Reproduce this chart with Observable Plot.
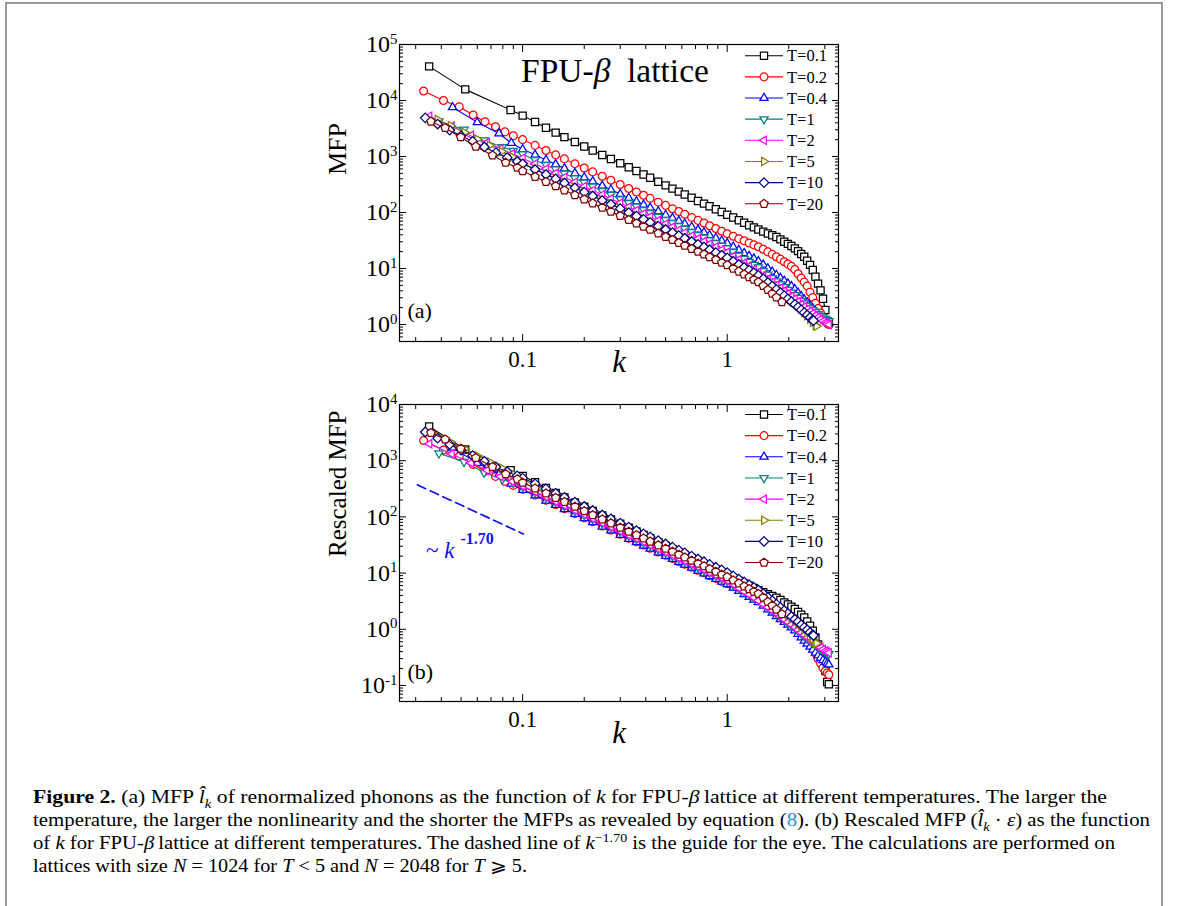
<!DOCTYPE html>
<html><head><meta charset="utf-8">
<script src="https://cdn.jsdelivr.net/npm/d3@7"></script>
<script src="https://cdn.jsdelivr.net/npm/@observablehq/plot@0.6"></script>
<style>
body{margin:0;background:#fff;}
#page{position:relative;width:1179px;height:906px;overflow:hidden;background:#fff;font-family:"Liberation Serif","Times New Roman",serif;color:#000;}
#border{position:absolute;left:5px;top:2px;width:1154px;height:940px;border:2px solid #9a9a9a;border-bottom:none;}
.panel{position:absolute;left:300px;}
#pa{top:20px}
#pb{top:380px}
#legend{position:absolute;left:0;top:0;pointer-events:none;}
.ann{position:absolute;white-space:nowrap;line-height:1;}
#fpu{left:521px;top:54px;font-size:33.5px;}
#guide{left:426px;top:539px;font-size:23px;color:#1010ff;}
#guide .ex{position:relative;top:-14px;font-size:16px;font-weight:bold;margin-left:6px;}
#caption{position:absolute;left:33px;top:786px;font-size:18px;line-height:23px;color:#000;}
#caption .ln{white-space:nowrap;transform-origin:0 50%;width:max-content;}
#caption sub,#caption sup{font-size:0.68em;line-height:0;}
</style></head><body>
<div id="page">
 <div id="border"></div>
 <div id="pa" class="panel"></div>
 <div id="pb" class="panel"></div>
 <svg id="legend" width="1179" height="906"></svg>
 <div class="ann" id="fpu">FPU-<i>β</i>&nbsp;&nbsp;lattice</div>
 <div class="ann" id="guide">~&nbsp;<i>k</i><span class="ex">-1.70</span></div>
 <div id="caption">
  <div class="ln"><b>Figure 2.</b> (a) MFP <i>l̂</i><sub><i>k</i></sub> of renormalized phonons as the function of <i>k</i> for FPU-<i>β</i>&#8201;lattice at different temperatures. The larger the</div>
  <div class="ln">temperature, the larger the nonlinearity and the shorter the MFPs as revealed by equation (<span style="color:#2b8ccf">8</span>). (b) Rescaled MFP (<i>l̂</i><sub><i>k</i></sub> · <i>ε</i>) as the function</div>
  <div class="ln">of <i>k</i> for FPU-<i>β</i>&#8201;lattice at different temperatures. The dashed line of <i>k</i><sup>−1.70</sup> is the guide for the eye. The calculations are performed on</div>
  <div class="ln">lattices with size <i>N</i> = 1024 for <i>T</i> &lt; 5 and <i>N</i> = 2048 for <i>T</i> ⩾ 5.</div>
 </div>
</div>
<script>
// ---------------- DATA ----------------
const seriesLabels = ["T=0.1","T=0.2","T=0.4","T=1","T=2","T=5","T=10","T=20"];

// shared wave-number grid of the dense part of the curves
const kGrid = [0.10,0.115,0.13,0.145,0.16,0.18,0.20,0.22,0.245,0.27,0.30,0.33,0.36,0.39,0.42,0.46,0.50,0.54,0.58,0.62,0.67,0.72,0.77,0.82,0.88,0.94,1.00,1.07,1.14,1.21,1.28,1.35,1.42,1.50,1.58,1.66,1.74,1.82,1.90,1.98,2.06,2.14,2.22,2.30,2.38,2.46,2.54,2.62,2.70,2.78,2.86,2.94,3.02,3.08,3.14];

// T = 0.1
const k_T01 = [0.0349,0.0524,0.0873, ...kGrid];
const mfp_T01 = [40700,15800,6760, 5370,4120,3270,2670,2220,1810,1510,1280,1060,904,757,641,551,476,417,353,305,267,236,210,183,161,144,129,114,102,91.2,81.3,72.6,65.5,59.4,54.2,49.7,45.5,42.1,39.2,36.4,33.1,30.1,27.5,25.2,22.9,20.4,18.1,16.2,13.8,11.6,9.42,7.14,5.37,4.07,2.88,1.81,1.15,1.05];
const res_T01 = [4070,1580,676, 537,412,327,267,222,181,151,128,106,90.4,75.7,64.1,55.1,47.6,41.7,35.3,30.5,26.7,23.6,21.0,18.3,16.1,14.4,12.9,11.4,10.2,9.12,8.13,7.26,6.55,5.94,5.42,4.97,4.55,4.21,3.92,3.64,3.31,3.01,2.75,2.52,2.29,2.04,1.81,1.62,1.38,1.16,0.942,0.714,0.537,0.407,0.288,0.181,0.115,0.105];

// T = 0.2
const k_T02 = [0.0328,0.041,0.049,0.0573,0.0655,0.0737,0.0819,0.090, ...kGrid];
const mfp_T02 = [14800,10000,7760,5500,4170,3390,2750,2340, 2000,1580,1280,1070,906,745,622,531,443,377,316,268,232,203,179,153,134,117,104,93.1,81.7,72.4,64.9,58.1,51.8,46.2,41.7,37.7,34.1,31.2,28.6,26.4,24.5,22.1,19.8,17.9,16.2,14.7,13.2,12.0,10.9,9.59,8.04,6.75,5.71,4.84,3.78,3.02,2.40,1.93,1.60,1.32,1.17,1.08,1.00];
const res_T02 = [2290,1550,1200,852,646,525,426,363, 310,245,198,166,140,115,96.4,82.3,68.7,58.4,49.0,41.5,36.0,31.5,27.7,23.7,20.8,18.1,16.1,14.4,12.7,11.2,10.1,9.0,8.03,7.16,6.46,5.84,5.29,4.84,4.43,4.09,3.80,3.43,3.07,2.77,2.51,2.28,2.05,1.86,1.69,1.49,1.25,1.05,0.885,0.750,0.586,0.468,0.372,0.299,0.248,0.205,0.181,0.167,0.155];

// T = 0.4
const k_T04 = [0.0454,0.060,0.0766,0.088, ...kGrid];
const mfp_T04 = [7590,4070,2570,1740, 1350,1070,867,724,612,504,421,359,299,255,213,181,157,137,121,104,90.4,79.4,70.5,63.0,55.2,49.0,43.9,39.3,35.0,31.3,28.2,24.5,21.4,18.8,16.7,15.0,13.5,11.7,10.0,8.75,7.64,6.76,6.00,5.36,4.81,4.26,3.69,3.20,2.80,2.47,2.17,1.92,1.71,1.52,1.38,1.26,1.17,1.10,1.05];
const res_T04 = [1700,911,575,390, 302,240,194,162,137,113,94.3,80.4,67.0,57.1,47.7,40.5,35.2,30.7,27.1,23.3,20.2,17.8,15.8,14.1,12.4,11.0,9.83,8.80,7.84,7.01,6.32,5.49,4.79,4.21,3.74,3.36,3.02,2.62,2.24,1.96,1.71,1.51,1.34,1.20,1.08,0.954,0.827,0.717,0.627,0.553,0.486,0.430,0.383,0.340,0.309,0.282,0.262,0.246,0.235];

// T = 1
const k_T1 = [0.039,0.0517,0.0648,0.0796,0.090, ...kGrid];
const mfp_T1 = [4270,3020,1950,1480,1260, 1100,867,705,589,498,409,342,292,243,207,173,147,128,111,98.4,84.3,73.5,64.6,57.3,51.2,44.9,39.8,35.6,31.9,28.4,25.4,22.9,19.7,17.1,14.9,13.2,11.7,10.5,9.06,7.80,6.79,5.92,5.25,4.66,4.16,3.73,3.35,2.99,2.66,2.39,2.16,1.97,1.82,1.67,1.54,1.44,1.35,1.26,1.20,1.15];
const res_T1 = [1350,954,616,468,398, 348,274,223,186,157,129,108,92.3,76.8,65.4,54.7,46.5,40.4,35.1,31.1,26.6,23.2,20.4,18.1,16.2,14.2,12.6,11.2,10.1,8.97,8.03,7.24,6.23,5.40,4.71,4.17,3.70,3.32,2.86,2.46,2.15,1.87,1.66,1.47,1.31,1.18,1.06,0.945,0.841,0.755,0.683,0.623,0.575,0.528,0.487,0.455,0.427,0.398,0.379,0.363];

// T = 2
const k_T2 = [0.035,0.045,0.056,0.067,0.078,0.089, ...kGrid];
const mfp_T2 = [5250,3470,2400,1780,1380,1120, 933,738,600,501,424,348,291,248,207,176,148,125,109,94.8,83.8,71.8,62.5,55.0,48.8,43.6,38.2,33.9,30.3,27.2,24.2,21.6,19.5,16.7,14.3,12.4,10.9,9.62,8.53,7.43,6.49,5.71,5.05,4.47,3.96,3.54,3.18,2.86,2.56,2.29,2.07,1.88,1.72,1.58,1.45,1.34,1.24,1.15,1.08,1.04,1.00];
const res_T2 = [2000,1320,912,676,524,426, 355,280,228,190,161,132,111,94.2,78.7,66.9,56.2,47.5,41.4,36.0,31.8,27.3,23.8,20.9,18.5,16.6,14.5,12.9,11.5,10.3,9.20,8.21,7.41,6.35,5.43,4.71,4.14,3.66,3.24,2.82,2.47,2.17,1.92,1.70,1.50,1.35,1.21,1.09,0.973,0.870,0.787,0.714,0.654,0.600,0.551,0.509,0.471,0.437,0.410,0.395,0.380];

// T = 5 (N = 2048)
const k_T5 = [0.0384,0.0445,0.052,0.060,0.069,0.079,0.089, ...kGrid.slice(0,49), 2.73];
const mfp_T5 = [4570,3550,2690,2040,1580,1230,977, 759,600,488,407,344,283,237,202,168,143,120,102,88.3,77.1,68.1,58.3,50.8,44.7,39.6,35.4,31.0,27.5,24.7,22.1,19.7,17.6,15.8,13.8,12.1,10.7,9.57,8.59,7.73,6.70,5.74,4.98,4.33,3.80,3.35,2.96,2.65,2.38,2.13,1.88,1.63,1.43,1.25,1.10,0.975,0.933];
const res_T5 = [2760,2140,1620,1230,953,742,589, 458,362,294,245,207,171,143,122,101,86.2,72.4,61.5,53.2,46.5,41.1,35.2,30.6,27.0,23.9,21.3,18.7,16.6,14.9,13.3,11.9,10.6,9.53,8.32,7.30,6.45,5.77,5.18,4.66,4.04,3.46,3.00,2.61,2.29,2.02,1.78,1.60,1.44,1.28,1.13,0.983,0.862,0.754,0.663,0.588,0.563];

// T = 10 (N = 2048)
const k_T10 = [0.0334,0.0384,0.044,0.050,0.057,0.065,0.074,0.084,0.094, ...kGrid.slice(0,48), 2.64];
const mfp_T10 = [4900,3800,2950,2340,1860,1480,1170,955,813, 741,586,476,398,337,277,231,197,164,140,117,99.5,86.3,75.3,66.5,57.0,49.7,43.7,38.7,34.6,30.3,26.9,24.1,21.6,19.2,17.2,15.5,13.5,11.8,10.5,9.35,8.39,7.55,6.55,5.61,4.86,4.23,3.72,3.27,2.88,2.56,2.29,2.05,1.82,1.63,1.48,1.33,1.21,1.17];
const res_T10 = [3240,2510,1950,1550,1230,978,773,631,537, 490,387,315,263,223,183,153,130,108,92.5,77.3,65.8,57.0,49.8,44.0,37.7,32.9,28.9,25.6,22.9,20.0,17.8,15.9,14.3,12.7,11.4,10.2,8.92,7.80,6.94,6.18,5.55,4.99,4.33,3.71,3.21,2.80,2.46,2.16,1.90,1.69,1.51,1.36,1.20,1.08,0.978,0.879,0.800,0.773];

// T = 20 (N = 2048)
const k_T20 = [0.0356,0.0418,0.0498,0.059,0.0712,0.0826,0.0942, ...kGrid.slice(0,37), 1.85];
const mfp_T20 = [4220,3240,2210,1510,1050,776,631, 550,435,353,295,249,205,171,146,122,104,86.9,73.8,64.0,55.8,49.3,42.3,36.8,32.4,28.7,25.6,22.5,20.0,17.9,16.0,14.3,12.7,11.5,10.0,8.85,7.85,7.03,6.32,5.73,4.92,4.15,3.56,3.04,2.51];
const res_T20 = [3130,2400,1640,1120,778,575,468, 408,322,262,219,185,152,127,108,90.4,77.1,64.4,54.7,47.4,41.3,36.5,31.3,27.3,24.0,21.3,19.0,16.7,14.8,13.3,11.9,10.6,9.41,8.52,7.41,6.56,5.82,5.21,4.68,4.25,3.65,3.08,2.64,2.25,1.86];

// dashed guide line ~ k^-1.70 in panel (b)
const guideK = [0.0306, 0.1008];
const guideV = [371, 49.6];

// axis ticks
const xMajor = [0.1, 1];
const xMinor = [0.03,0.04,0.05,0.06,0.07,0.08,0.09,0.2,0.3,0.4,0.5,0.6,0.7,0.8,0.9,2,3];
const yMajorA = [1,10,100,1000,10000,100000];
const yMajorB = [0.1,1,10,100,1000,10000];

// ---------------- STYLE ----------------
const COLORS = ["#000000","#ff0000","#0000ff","#008080","#ff00ff","#808000","#000080","#800000"];
const FONT = '"Liberation Serif","Times New Roman",serif';

function polySym(angles, scale){
  return {draw(c, size){
    const r = Math.sqrt(size/Math.PI)*scale;
    angles.forEach((a,i)=>{ const x=r*Math.sin(a), y=-r*Math.cos(a); if(i) c.lineTo(x,y); else c.moveTo(x,y); });
    c.closePath();
  }};
}
const P = Math.PI;
const symSquare = {draw(c,size){ const h=Math.sqrt(size/Math.PI)*0.92; c.moveTo(-h,-h); c.lineTo(h,-h); c.lineTo(h,h); c.lineTo(-h,h); c.closePath(); }};
const symCircle = {draw(c,size){ const r=Math.sqrt(size/Math.PI); c.moveTo(r,0); c.arc(0,0,r,0,2*Math.PI); c.closePath(); }};
const symTriUp = polySym([0, 2*P/3, 4*P/3], 1.22);
const symTriDown = polySym([P, P+2*P/3, P+4*P/3], 1.22);
const symTriLeft = polySym([-P/2, -P/2+2*P/3, -P/2+4*P/3], 1.22);
const symTriRight = polySym([P/2, P/2+2*P/3, P/2+4*P/3], 1.22);
const symDiamond = polySym([0, P/2, P, 3*P/2], 1.22);
const symPentagon = polySym([0, 2*P/5, 4*P/5, 6*P/5, 8*P/5], 1.12);
const SYMBOLS = [symSquare, symCircle, symTriUp, symTriDown, symTriLeft, symTriRight, symDiamond, symPentagon];
const R = 3.9;

const seriesA = [[k_T01,mfp_T01],[k_T02,mfp_T02],[k_T04,mfp_T04],[k_T1,mfp_T1],[k_T2,mfp_T2],[k_T5,mfp_T5],[k_T10,mfp_T10],[k_T20,mfp_T20]];
const seriesB = [[k_T01,res_T01],[k_T02,res_T02],[k_T04,res_T04],[k_T1,res_T1],[k_T2,res_T2],[k_T5,res_T5],[k_T10,res_T10],[k_T20,res_T20]];
[...seriesA, ...seriesB].forEach(([k,v],i)=>{ if(k.length!==v.length) console.warn("length mismatch", i, k.length, v.length); });

function yMinorFor(domain){
  const out=[];
  for(let e=-2;e<=5;e++) for(let m=2;m<=9;m++){ const v=m*Math.pow(10,e); if(v>domain[0]*1.02 && v<domain[1]) out.push(+v.toPrecision(3)); }
  return out;
}

function makePanel(series, yDomain, yMajor, opts){
  const marks = [];
  if (opts.guide) {
    const g = opts.guide[0].map((k,i)=>({k, v: opts.guide[1][i]}));
    marks.push(Plot.line(g, {x:"k", y:"v", stroke:"#1010ff", strokeWidth:1.7, strokeDasharray:"9,5"}));
  }
  series.forEach(([ks, vs], i) => {
    const rows = ks.map((k,j)=>({k, v: vs[j]}));
    marks.push(Plot.line(rows, {x:"k", y:"v", stroke: COLORS[i], strokeWidth: 1.1}));
    marks.push(Plot.dot(rows, {x:"k", y:"v", symbol: SYMBOLS[i], r: R, stroke: COLORS[i], fill: "white", strokeWidth: 1.25}));
  });
  const yMinor = yMinorFor(yDomain);
  const empty = () => "";
  marks.push(
    Plot.frame({stroke:"black", strokeWidth:1.2}),
    Plot.axisX(xMajor, {anchor:"bottom", tickSize:-7, tickFormat:empty, label:null}),
    Plot.axisX(xMinor, {anchor:"bottom", tickSize:-4, tickFormat:empty, label:null}),
    Plot.axisX(xMajor, {anchor:"top", tickSize:-7, tickFormat:empty, label:null}),
    Plot.axisX(xMinor, {anchor:"top", tickSize:-4, tickFormat:empty, label:null}),
    Plot.axisY(yMajor, {anchor:"left", tickSize:-7, tickFormat:empty, label:null}),
    Plot.axisY(yMinor, {anchor:"left", tickSize:-4, tickFormat:empty, label:null}),
    Plot.axisY(yMajor, {anchor:"right", tickSize:-7, tickFormat:empty, label:null}),
    Plot.axisY(yMinor, {anchor:"right", tickSize:-4, tickFormat:empty, label:null}),
    Plot.axisX(xMajor, {anchor:"bottom", tickSize:0, tickPadding:9, tickFormat: d => d < 1 ? "0.1" : "1", label:null, fontSize:23}),
    Plot.axisY(yMajor, {anchor:"left", tickSize:0, tickPadding:2, tickFormat: d => "10^" + Math.round(Math.log10(d)), label:null, fontSize:24}),
    Plot.text([opts.tag], {frameAnchor:"bottom-left", textAnchor:"start", dx:8, dy:opts.tagDy, fontSize:22}),
    Plot.text([opts.ylabel], {frameAnchor:"left", rotate:-90, dx:-62, dy:opts.ylabelDy, fontSize:opts.ylabelSize}),
    Plot.text(["k"], {frameAnchor:"bottom", dy:opts.kDy, fontSize:31, fontStyle:"italic"})
  );
  const svg = Plot.plot({
    width: 560, height: 380,
    marginLeft: 99, marginRight: 22, marginTop: 24, marginBottom: 59,
    x: {type:"log", domain:[0.025, 3.5], axis:null},
    y: {type:"log", domain:yDomain, axis:null},
    style: {fontFamily: FONT, fontSize:"23px", color:"black", background:"transparent", overflow:"visible"},
    marks
  });
  // superscript exponents on the y tick labels
  d3.select(svg).selectAll('g[aria-label="y-axis tick label"] text').each(function(){
    const t = this.textContent;
    if (!t.includes("^")) return;
    const [b, e] = t.split("^");
    const s = d3.select(this);
    s.text(null);
    s.append("tspan").text(b);
    s.append("tspan").attr("dy","-0.58em").attr("font-size","0.62em").text(e);
  });
  return svg;
}

document.getElementById("pa").appendChild(makePanel(seriesA, [0.497, 1e5], yMajorA,
  {tag:"(a)", tagDy:-24, ylabel:"MFP", ylabelDy:-18, ylabelSize:26, kDy:30}));
document.getElementById("pb").appendChild(makePanel(seriesB, [0.0518, 1e4], yMajorB,
  {tag:"(b)", tagDy:-23, ylabel:"Rescaled MFP", ylabelDy:4, ylabelSize:25, kDy:41, guide:[guideK, guideV]}));

// legends (inside the top-right of each panel)
const leg = d3.select("#legend");
[55.7, 414.5].forEach(y0 => {
  seriesLabels.forEach((lab, i) => {
    const g = leg.append("g").attr("transform", `translate(0,${y0 + i*21.15})`);
    g.append("line").attr("x1",745).attr("x2",783).attr("stroke",COLORS[i]).attr("stroke-width",1.1);
    const p = d3.path(); SYMBOLS[i].draw(p, Math.PI*R*R);
    g.append("path").attr("d", p.toString()).attr("transform","translate(764,0)").attr("fill","white").attr("stroke",COLORS[i]).attr("stroke-width",1.25);
    g.append("text").attr("x",787).attr("dy","0.35em").attr("font-family",FONT).attr("font-size",16.5).attr("fill","#000").text(lab);
  });
});

// fit caption lines to the widths of the reference layout
const targets = [1074, 1117, 1082, 494];
document.querySelectorAll("#caption .ln").forEach((el,i)=>{
  const w = el.getBoundingClientRect().width;
  if (w > 0) el.style.transform = `scaleX(${targets[i]/w})`;
});
</script>
</body></html>
